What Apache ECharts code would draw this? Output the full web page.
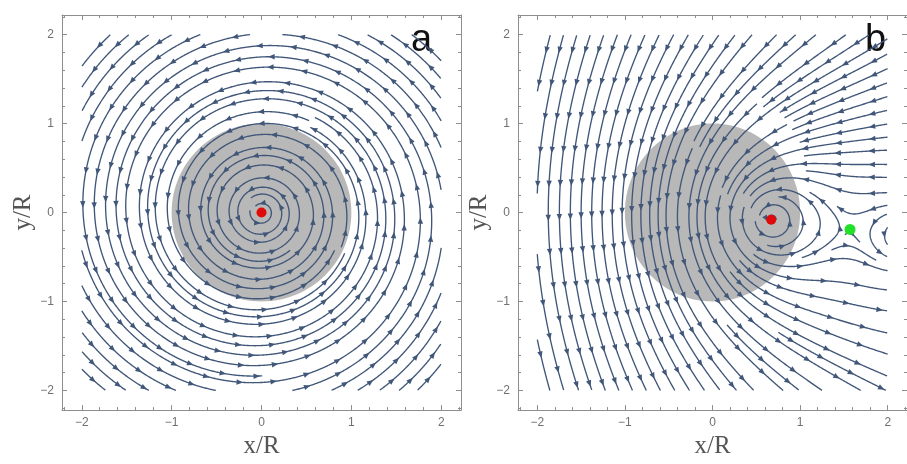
<!DOCTYPE html>
<html>
<head>
<meta charset="utf-8">
<script src="https://cdn.jsdelivr.net/npm/echarts@6/dist/echarts.min.js"></script>
<style>html,body{margin:0;padding:0;background:#fff}#c{width:907px;height:464px}</style>
</head>
<body>
<div id="c"></div>
<script>
// ---------- data ----------
// vector-field models: [x, y, circulation, inflow]
const vorticesA = [[0, 0, 1, 0.05]];
const driftA = [0, 0];
const vorticesB = [[0.67, -0.08, 1, 0.05], [2.15, -0.27, 0.35, 0]];
const driftB = [0, -0.51];
// shaded disk: [cx, cy, radius]
const diskA = [[0, 0, 1]];
const diskB = [[0, 0, 1]];
// marked points
const redA = [[0, 0]];
const redB = [[0.67, -0.08]];
const greenB = [[1.57, -0.19]];
// streamline plot range and axis ticks
const plotRange = [-2, 2];
const axisRange = [-2.22, 2.22];
const majorTicks = [-2, -1, 0, 1, 2];
const minorTicks = [-2.2, -1.8, -1.6, -1.4, -1.2, -0.8, -0.6, -0.4, -0.2, 0.2, 0.4, 0.6, 0.8, 1.2, 1.4, 1.6, 1.8, 2.2];
const panelLabels = ['a', 'b'];

// ---------- field & evenly spaced streamlines ----------
function makeField(vort, drift) {
  return function (x, y) {
    let u = drift[0], v = drift[1];
    for (const q of vort) {
      const dx = x - q[0], dy = y - q[1];
      const r2 = dx * dx + dy * dy + 1e-9;
      u += (-q[2] * dy - q[3] * dx) / r2;
      v += (q[2] * dx - q[3] * dy) / r2;
    }
    return [u, v];
  };
}

function makeStreams(field, sinks, dsep, dtestRatio, seed) {
  const X0 = plotRange[0], X1 = plotRange[1], Y0 = plotRange[0], Y1 = plotRange[1];
  const dtest = dsep * dtestRatio;
  const h = 0.01;
  const cs = dsep;
  const NX = Math.ceil((X1 - X0) / cs) + 1, NY = Math.ceil((Y1 - Y0) / cs) + 1;
  const cells = [];
  for (let i = 0; i < NX * NY; i++) cells.push([]);
  function ci(x, y) { return [Math.floor((x - X0) / cs), Math.floor((y - Y0) / cs)]; }
  function addPt(x, y, id, k, touched) {
    const c = ci(x, y);
    if (c[0] < 0 || c[1] < 0 || c[0] >= NX || c[1] >= NY) return;
    const idx = c[1] * NX + c[0];
    cells[idx].push([x, y, id, k]);
    touched.add(idx);
  }
  function tooClose(x, y, d, id, k, gap) {
    const c = ci(x, y), r = Math.ceil(d / cs);
    for (let jj = c[1] - r; jj <= c[1] + r; jj++) {
      if (jj < 0 || jj >= NY) continue;
      for (let ii = c[0] - r; ii <= c[0] + r; ii++) {
        if (ii < 0 || ii >= NX) continue;
        const arr = cells[jj * NX + ii];
        for (let m = 0; m < arr.length; m++) {
          const p = arr[m];
          if (p[2] === id && Math.abs(p[3] - k) < gap) continue;
          const dx = p[0] - x, dy = p[1] - y;
          if (dx * dx + dy * dy < d * d) return true;
        }
      }
    }
    return false;
  }
  function dir(x, y) {
    const v = field(x, y), n = Math.hypot(v[0], v[1]);
    if (!(n > 1e-12)) return null;
    return [v[0] / n, v[1] / n];
  }
  function nearSink(x, y) {
    for (const s of sinks) if (Math.hypot(x - s[0], y - s[1]) < 0.04) return true;
    return false;
  }
  const lines = [];
  let nextId = 0;
  const queue = [];
  function trace(sx, sy, id, touched) {
    const gap = Math.ceil(2.2 * dsep / h);
    const halves = [[], []];
    addPt(sx, sy, id, 0, touched);
    for (let s = 0; s < 2; s++) {
      const sign = s === 0 ? 1 : -1;
      let x = sx, y = sy, k = 0;
      for (let n = 0; n < 5000; n++) {
        const d1 = dir(x, y); if (!d1) break;
        const d2 = dir(x + sign * h * 0.5 * d1[0], y + sign * h * 0.5 * d1[1]); if (!d2) break;
        const nx = x + sign * h * d2[0], ny = y + sign * h * d2[1];
        if (nx < X0 || nx > X1 || ny < Y0 || ny > Y1) break;
        if (nearSink(nx, ny)) break;
        k += sign;
        if (tooClose(nx, ny, dtest, id, k, gap)) break;
        halves[s].push([nx, ny]);
        addPt(nx, ny, id, k, touched);
        x = nx; y = ny;
      }
    }
    return halves[1].reverse().concat([[sx, sy]], halves[0]);
  }
  function tryLine(x, y) {
    if (x < X0 || x > X1 || y < Y0 || y > Y1) return;
    if (nearSink(x, y)) return;
    if (tooClose(x, y, dsep * 0.98, -1, 0, 0)) return;
    const id = nextId++;
    const touched = new Set();
    const pts = trace(x, y, id, touched);
    if (pts.length * h < 0.22) {
      touched.forEach(function (idx) { cells[idx] = cells[idx].filter(function (p) { return p[2] !== id; }); });
      return;
    }
    lines.push(pts);
    for (let i = 2; i < pts.length - 2; i += 4) {
      const tx = pts[i + 1][0] - pts[i - 1][0], ty = pts[i + 1][1] - pts[i - 1][1];
      const tn = Math.hypot(tx, ty) || 1;
      const nx = -ty / tn, ny = tx / tn;
      queue.push([pts[i][0] + nx * dsep, pts[i][1] + ny * dsep]);
      queue.push([pts[i][0] - nx * dsep, pts[i][1] - ny * dsep]);
    }
  }
  function drain() { while (queue.length) { const q = queue.shift(); tryLine(q[0], q[1]); } }
  tryLine(seed[0], seed[1]);
  drain();
  const st = dsep / 2;
  for (let y = Y0 + st / 2; y < Y1; y += st) {
    for (let x = X0 + st / 2; x < X1; x += st) { tryLine(x, y); drain(); }
  }
  return lines;
}

const streamsA = makeStreams(makeField(vorticesA, driftA), redA, 0.135, 0.55, [0, 1.0]);
const streamsB = makeStreams(makeField(vorticesB, driftB), redB, 0.145, 0.55, [0.2, -0.08]);

// ---------- drawing ----------
const LINE = '#415779';
function streamRender(streams) {
  return function (params, api) {
    const s = streams[api.value(2)];
    const pts = s.map(function (p) { return api.coord(p); });
    const children = [{ type: 'polyline', shape: { points: pts }, style: { stroke: LINE, lineWidth: 1.35, fill: null }, silent: true }];
    let total = 0;
    for (let i = 1; i < pts.length; i++) total += Math.hypot(pts[i][0] - pts[i - 1][0], pts[i][1] - pts[i - 1][1]);
    const spacing = 34;
    let next = total < spacing ? total * 0.6 : spacing * 0.55;
    let acc = 0;
    for (let i = 1; i < pts.length; i++) {
      const dx = pts[i][0] - pts[i - 1][0], dy = pts[i][1] - pts[i - 1][1];
      const L = Math.hypot(dx, dy);
      if (L === 0) continue;
      while (acc + L >= next) {
        const t = (next - acc) / L;
        const tx = pts[i - 1][0] + dx * t, ty = pts[i - 1][1] + dy * t;
        const ux = dx / L, uy = dy / L;
        const bx = tx - ux * 6.5, by = ty - uy * 6.5;
        children.push({ type: 'polygon', silent: true, shape: { points: [[tx, ty], [bx - uy * 2.7, by + ux * 2.7], [bx + uy * 2.7, by - ux * 2.7]] }, style: { fill: LINE } });
        next += spacing;
      }
      acc += L;
    }
    return { type: 'group', children: children };
  };
}
function diskRender(params, api) {
  const c = api.coord([api.value(0), api.value(1)]);
  const r = api.size([api.value(2), api.value(2)]);
  return { type: 'ellipse', shape: { cx: c[0], cy: c[1], rx: r[0], ry: r[1] }, style: { fill: '#b8b8b8' }, silent: true };
}

const FRAME = '#8e8e8e';
function fmt(v) { return String(v).replace('-', '\u2212'); }
function xAx(g, pos, major, main) {
  const o = {
    type: 'value', gridIndex: g, position: pos, min: axisRange[0], max: axisRange[1],
    axisLine: { show: major, onZero: false, lineStyle: { color: FRAME, width: 1 } },
    axisTick: { show: true, inside: true, length: major ? 5 : 3, customValues: major ? majorTicks : minorTicks, lineStyle: { color: FRAME } },
    axisLabel: { show: !!main, customValues: majorTicks, formatter: fmt, color: '#707070', fontSize: 12, fontFamily: 'Liberation Sans', margin: 7 },
    splitLine: { show: false }
  };
  if (main) {
    o.name = 'x/R'; o.nameLocation = 'middle'; o.nameGap = 21;
    o.nameTextStyle = { fontFamily: 'Liberation Serif', fontSize: 25, color: '#555' };
  }
  return o;
}
function yAx(g, pos, major, main) {
  const o = {
    type: 'value', gridIndex: g, position: pos, min: axisRange[0], max: axisRange[1],
    axisLine: { show: major, onZero: false, lineStyle: { color: FRAME, width: 1 } },
    axisTick: { show: true, inside: true, length: major ? 5 : 3, customValues: major ? majorTicks : minorTicks, lineStyle: { color: FRAME } },
    axisLabel: { show: !!main, customValues: majorTicks, formatter: fmt, color: '#707070', fontSize: 12, fontFamily: 'Liberation Sans', margin: 8 },
    splitLine: { show: false }
  };
  if (main) {
    o.name = 'y/R'; o.nameLocation = 'middle'; o.nameGap = 20; o.nameRotate = 90;
    o.nameTextStyle = { fontFamily: 'Liberation Serif', fontSize: 25, color: '#555' };
  }
  return o;
}

const xAxes = [], yAxes = [];
for (let g = 0; g < 2; g++) {
  xAxes.push(xAx(g, 'bottom', true, true), xAx(g, 'bottom', false), xAx(g, 'top', true), xAx(g, 'top', false));
  yAxes.push(yAx(g, 'left', true, true), yAx(g, 'left', false), yAx(g, 'right', true), yAx(g, 'right', false));
}

function panelSeries(g, disk, streams, reds, greens) {
  const xi = g * 4, yi = g * 4;
  const out = [
    { type: 'custom', xAxisIndex: xi, yAxisIndex: yi, z: 1, silent: true, renderItem: diskRender, data: disk, clip: true },
    { type: 'custom', xAxisIndex: xi, yAxisIndex: yi, z: 2, silent: true, renderItem: streamRender(streams),
      data: streams.map(function (s, i) { return [s[0][0], s[0][1], i]; }), clip: true },
    { type: 'scatter', xAxisIndex: xi, yAxisIndex: yi, z: 5, silent: true, symbolSize: 10, itemStyle: { color: '#e10a0a', opacity: 1 }, data: reds }
  ];
  if (greens) out.push({ type: 'scatter', xAxisIndex: xi, yAxisIndex: yi, z: 5, silent: true, symbolSize: 11, itemStyle: { color: '#22e02a', opacity: 1 }, data: greens });
  return out;
}

const chart = echarts.init(document.getElementById('c'), null, { renderer: 'canvas' });
chart.setOption({
  animation: false,
  backgroundColor: '#ffffff',
  grid: [
    { left: 62, top: 15, width: 399, height: 398 },
    { left: 518, top: 15, width: 399, height: 398 }
  ],
  xAxis: xAxes,
  yAxis: yAxes,
  graphic: [
    { type: 'text', left: 411, top: 22, style: { text: panelLabels[0], fontSize: 38, fontFamily: 'Liberation Sans', fill: '#111' } },
    { type: 'text', left: 865, top: 22, style: { text: panelLabels[1], fontSize: 38, fontFamily: 'Liberation Sans', fill: '#111' } }
  ],
  series: panelSeries(0, diskA, streamsA, redA, null).concat(panelSeries(1, diskB, streamsB, redB, greenB))
});
</script>
</body>
</html>
